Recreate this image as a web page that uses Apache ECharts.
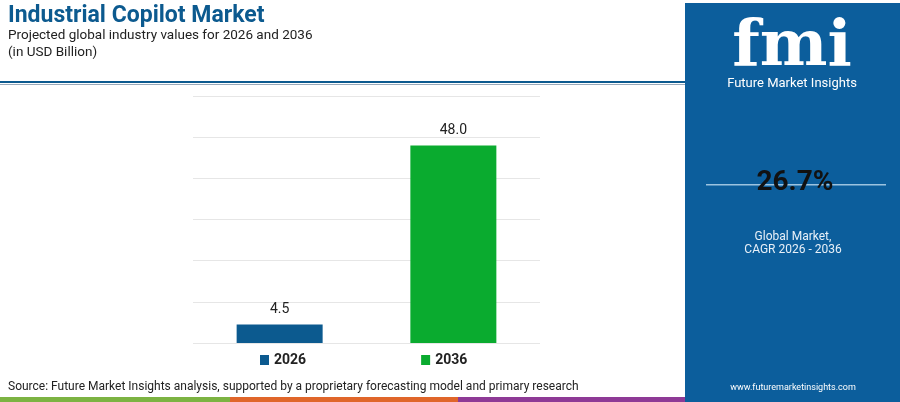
<!DOCTYPE html>
<html>
<head>
<meta charset="utf-8">
<script src="https://cdn.jsdelivr.net/npm/echarts@6/dist/echarts.min.js"></script>
<style>html,body{margin:0;padding:0;background:#fff}#chart{width:900px;height:402px}</style>
</head>
<body>
<div id="chart"></div>
<script>
const years = ['2026', '2036'];
const values = [4.5, 48.0];
const colors = ['#0c5a8f', '#0aab2f'];
const cagr = '26.7%';

const chart = echarts.init(document.getElementById('chart'));
const font = 'Roboto';

chart.setOption({
  animation: false,
  grid: { left: 193, right: 360, top: 96, bottom: 59 },
  legend: {
    bottom: 30, left: 255, itemGap: 115, itemWidth: 9, itemHeight: 10,
    icon: 'rect',
    textStyle: { fontFamily: font, fontSize: 14, fontWeight: 'bold', color: '#222' },
    data: years
  },
  xAxis: { type: 'category', data: ['a'], show: false },
  yAxis: {
    type: 'value', min: 0, max: 60, interval: 10,
    axisLabel: { show: false }, axisLine: { show: false }, axisTick: { show: false },
    splitLine: { lineStyle: { color: '#e6e6e6' } }
  },
  series: years.map((y, i) => ({
    name: y, type: 'bar', barWidth: 86, barGap: '102%',
    itemStyle: { color: colors[i] },
    label: { show: true, position: 'top', distance: 8, fontFamily: font, fontSize: 14, color: '#222',
      formatter: p => p.value.toFixed(1) },
    data: [values[i]]
  })),
  graphic: [
    { type: 'text', left: 8, top: 5, style: { text: 'Industrial Copilot Market', font: 'bold 23px Roboto', fill: '#0c5a8f' } },
    { type: 'text', left: 8, top: 29, style: { text: 'Projected global industry values for 2026 and 2036', font: '13.5px Roboto', fill: '#222' } },
    { type: 'text', left: 8, top: 46, style: { text: '(in USD Billion)', font: '13.5px Roboto', fill: '#222' } },
    { type: 'rect', shape: { x: 0, y: 81, width: 685, height: 2 }, style: { fill: '#0c5a8f' } },
    { type: 'rect', shape: { x: 0, y: 84, width: 685, height: 1 }, style: { fill: '#9ab' } },
    { type: 'text', left: 8, top: 381, style: { text: 'Source: Future Market Insights analysis, supported by a proprietary forecasting model and primary research', font: '12px Roboto', fill: '#222' } },
    { type: 'rect', shape: { x: 0, y: 397, width: 230, height: 5 }, style: { fill: '#7cb342' } },
    { type: 'rect', shape: { x: 230, y: 397, width: 228, height: 5 }, style: { fill: '#e0662a' } },
    { type: 'rect', shape: { x: 458, y: 397, width: 227, height: 5 }, style: { fill: '#8e3a96' } },
    { type: 'rect', shape: { x: 685, y: 3, width: 215, height: 399 }, style: { fill: '#0c5e9c' } },
    { type: 'text', x: 792, y: 48, style: { text: 'fmi', font: 'bold 64px "DejaVu Serif"', fill: '#fff', align: 'center', verticalAlign: 'middle' } },
    { type: 'text', x: 792, y: 84, style: { text: 'Future Market Insights', font: '13px Roboto', fill: '#fff', align: 'center', verticalAlign: 'middle' } },
    { type: 'rect', shape: { x: 706, y: 184, width: 180, height: 1.5 }, style: { fill: '#9cc3e0' } },
    { type: 'text', x: 795, y: 183, style: { text: cagr, font: 'bold 28px Roboto', fill: '#111', align: 'center', verticalAlign: 'middle' } },
    { type: 'text', x: 793, y: 237, style: { text: 'Global Market,', font: '12px Roboto', fill: '#e8f0f8', align: 'center', verticalAlign: 'middle' } },
    { type: 'text', x: 793, y: 250, style: { text: 'CAGR 2026 - 2036', font: '12px Roboto', fill: '#e8f0f8', align: 'center', verticalAlign: 'middle' } },
    { type: 'text', x: 793, y: 388, style: { text: 'www.futuremarketinsights.com', font: '9px Roboto', fill: '#fff', align: 'center', verticalAlign: 'middle' } }
  ]
});
</script>
</body>
</html>
